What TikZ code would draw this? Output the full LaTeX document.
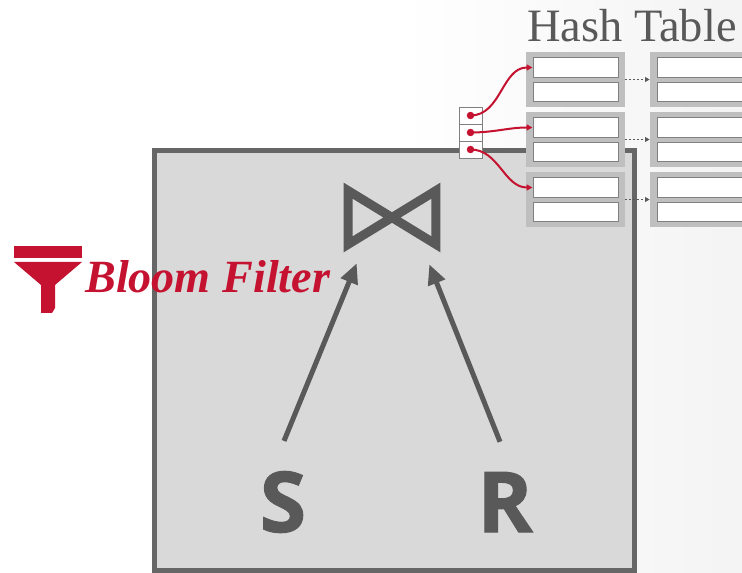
\documentclass[tikz,border=0pt]{standalone}
\usepackage{fontspec}
\setmainfont{Liberation Serif}
\newfontfamily\opensans{Open Sans}[BoldFeatures={FakeBold=1.2}]
\usetikzlibrary{positioning,arrows.meta}
\definecolor{cmured}{HTML}{C41230}
\definecolor{opgray}{HTML}{595959}
\definecolor{framegray}{HTML}{666666}
\definecolor{boxgray}{HTML}{D9D9D9}
\definecolor{bucketgray}{HTML}{BFBFBF}
\definecolor{slotgray}{HTML}{808080}
\begin{document}
\begin{tikzpicture}[x=0.75pt, y=-0.75pt,
  bucket/.style = {fill=bucketgray, minimum width=74.25pt, minimum height=41.25pt, inner sep=0},
  slot/.style = {draw=slotgray, fill=white, line width=0.75pt, minimum width=63.75pt, minimum height=14.5pt, inner sep=0},
  cell/.style = {draw=slotgray, fill=white, line width=0.6pt, minimum width=17.25pt, minimum height=12.75pt, inner sep=0},
  ptr/.style = {cmured, line width=1.5pt, -{Triangle[length=4.5pt,width=4.5pt]}},
  chain/.style = {opgray, dotted, line width=1pt, -{Triangle[length=3.5pt,width=3.5pt]}},
  flow/.style = {opgray, line width=3.75pt, -{Triangle[length=15pt,width=13pt]}},
  letter/.style = {anchor=base, inner sep=0, text=opgray, font=\opensans\bfseries\fontsize{63}{72}\selectfont}]
\useasboundingbox (0,0) rectangle (742,573);
\fill[white] (0,0) rectangle (742,573);
\shade[left color=white, right color=gray!9] (400,0) rectangle (742,573);
% operator box
\draw[framegray, fill=boxgray, line width=3.75pt] (154,151) rectangle (634.5,570);
% hash table
\node[anchor=base west, inner sep=0, text=opgray, font=\fontsize{34.8}{40}\selectfont] (title) at (527,42) {Hash Table};
\foreach \c/\x in {1/575.5, 2/699.5} {
  \foreach \r in {1,2,3} {
    \node[bucket] (b\c\r) at (\x, 19.5+60*\r) {};
    \node[slot] (top\c\r) at (\x, 7.5+60*\r) {};
    \node[slot] (bot\c\r) at (\x, 32+60*\r) {};
  }
}
\foreach \r in {1,2,3}
  \draw[chain] (b1\r) -- (b2\r);
\foreach \r/\y in {1/115.5, 2/132.5, 3/149.5}
  \node[cell] (p\r) at (470.5,\y) {};
\foreach \r in {1,2,3} {
  \fill[cmured] (p\r.center) circle (2.8pt);
  \draw[ptr] (p\r.center) to[out=0, in=180] (top1\r.west);
}
% join
\node[minimum width=72pt, minimum height=51.75pt, inner sep=0] (join) at (392,217.5) {};
\draw[opgray, line width=6.75pt] ([shift={(4.5,8)}]join.north west) -- ([shift={(-4.5,-8)}]join.south east)
  -- ([shift={(-4.5,8)}]join.north east) -- ([shift={(4.5,-8)}]join.south west) -- cycle;
\node[letter] (S) at (283,532) {S};
\node[letter] (R) at (505,532) {R};
\draw[flow] ([shift={(1,-30)}]S.north) -- ([shift={(13,11)}]join.south west);
\draw[flow] ([shift={(-5,-30)}]R.north) -- ([shift={(-11,12)}]join.south east);
% bloom filter
\fill[cmured] (14,246) rectangle (82,258);
\fill[cmured] (14,262) -- (82,262) -- (55,285) -- (55,308) -- (52,313) -- (41,313) -- (41,285) -- cycle;
\node[anchor=base west, inner sep=0, text=cmured, font=\bfseries\itshape\fontsize{34.6}{40}\selectfont] (bloom) at (85,293) {Bloom Filter};
\end{tikzpicture}
\end{document}
